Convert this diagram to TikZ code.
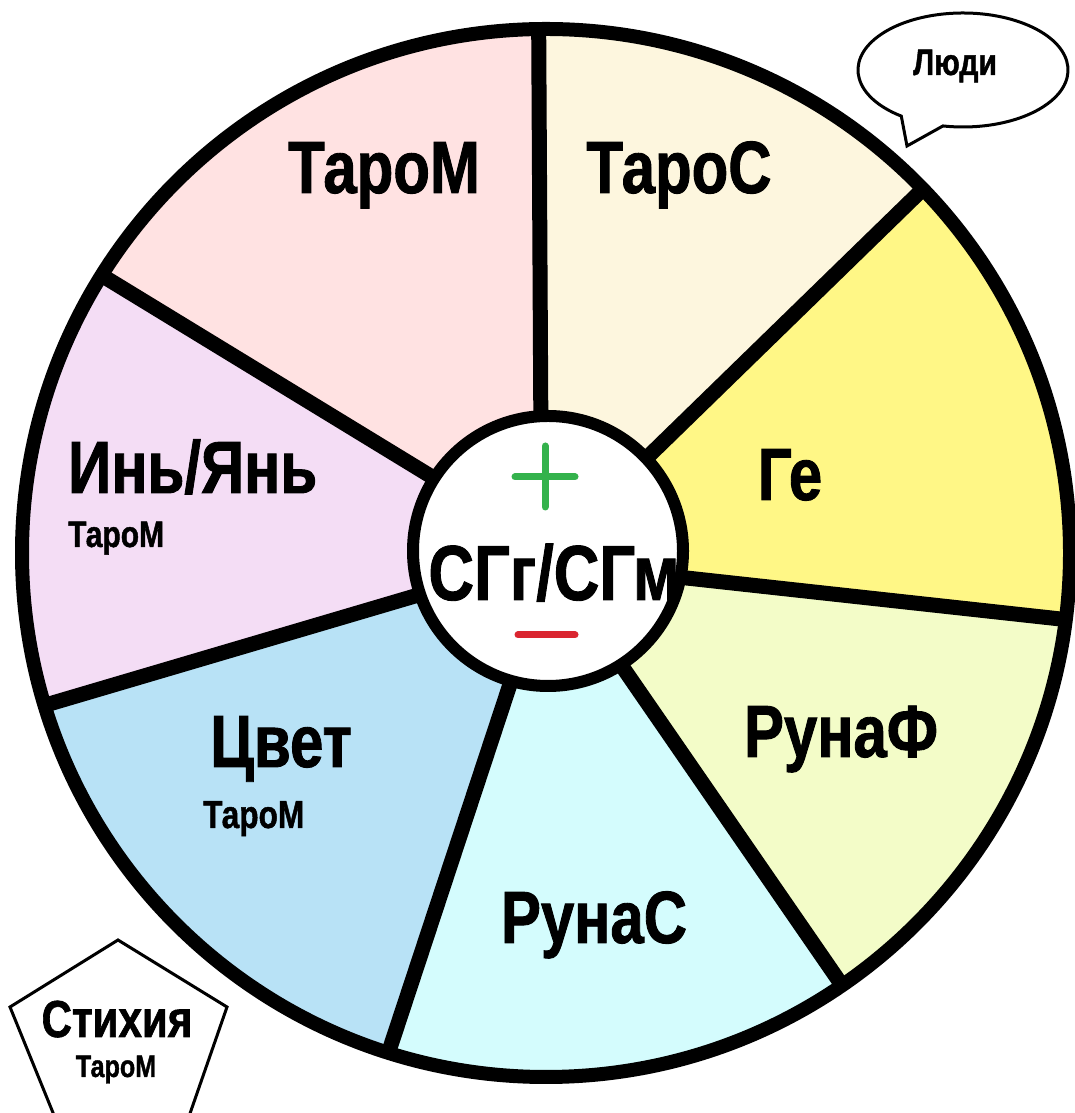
\documentclass[tikz,border=0pt]{standalone}
\usepackage{fontspec}
\newfontfamily\nar[FakeStretch=0.81,FakeBold=1.2]{Liberation Sans}
\definecolor{cTM}{RGB}{255,226,226}
\definecolor{cTC}{RGB}{253,246,222}
\definecolor{cGe}{RGB}{255,247,134}
\definecolor{cRF}{RGB}{243,252,200}
\definecolor{cRS}{RGB}{212,252,253}
\definecolor{cCv}{RGB}{184,226,246}
\definecolor{cYY}{RGB}{244,221,245}
\definecolor{plusgreen}{RGB}{52,178,76}
\definecolor{minusred}{RGB}{218,37,48}
\begin{document}
\begin{tikzpicture}[x=1pt,y=1pt,
  lab/.style={inner sep=0pt, anchor=base, text=black},
  big/.style={lab, font=\nar\bfseries\fontsize{74}{88}\selectfont},
  small/.style={lab, font=\nar\bfseries\fontsize{37}{44}\selectfont},
  centre/.style={lab, font=\nar\bfseries\fontsize{78}{90}\selectfont},
  spoke/.style={line width=15pt},
  rim/.style={line width=14pt},
  hub/.style={draw, line width=12pt, fill=white},
  thin/.style={line width=3pt, fill=white, line join=miter}]
\useasboundingbox (0,0) rectangle (1075,1113);
\clip (0,0) rectangle (1075,1113);
\fill[white] (0,0) rectangle (1075,1113);
\coordinate (C) at (546,560);
\coordinate (H) at (548,562);
\def\R{524}
\def\r{135}
% sectors: rim start / rim end / hub start / hub end / colour
\foreach \a/\b/\ha/\hb/\col in {90.8/148/94/147/cTM, 44/90.8/43/94/cTC,
  -7.3/44/-13/43/cGe, -55.6/-7.3/-58/-13/cRF, -107.5/-55.6/-105/-58/cRS,
  -163.1/-107.5/-160.4/-105/cCv, 148/196.9/147/199.6/cYY}
  \fill[\col] (H) -- ([shift={(H)}]\ha:\r) -- ([shift={(C)}]\a:\R)
     arc[start angle=\a, end angle=\b, radius=\R] -- ([shift={(H)}]\hb:\r) -- cycle;
% spokes: hub angle / rim angle
\foreach \ha/\a in {94/90.8, 43/44, -13/-7.3, -58/-55.6, -105/-107.5, -160.4/-163.1, 147/148}
  \draw[spoke] ([shift={(H)}]\ha:100) -- ([shift={(C)}]\a:\R);
% rim
\draw[rim] (C) circle[radius=\R];
% hub
\node[circle, hub, minimum size=270pt, inner sep=0pt] (hub) at (H) {};
\draw[plusgreen, line width=7pt, line cap=round] (515,636) -- (575,636);
\draw[plusgreen, line width=7pt, line cap=round] (545,667) -- (545,606);
\draw[minusred, line width=7pt, line cap=round] (518,478) -- (575,478);
\node[centre] (sg) at (554,513) {СГг/СГм};
% sector labels
\node[big] (tm) at (384,920) {ТароМ};
\node[big] (tc) at (679,920) {ТароС};
\node[big] (ge) at (790,613) {Ге};
\node[big, anchor=base west] (yy) at (68,620) {Инь/Янь};
\node[small, anchor=base west] (yyt) at (68,566) {ТароМ};
\node[big, anchor=base west] (cv) at (210,346) {Цвет};
\node[small, font=\nar\bfseries\fontsize{39}{46}\selectfont, anchor=base west] (cvt) at (203,285) {ТароМ};
\node[big] (rf) at (841,356) {РунаФ};
\node[big] (rs) at (594,170) {РунаС};
% speech bubble
\draw[thin] (907,967) -- ([shift={(963,1043)}]234:105 and 57)
  arc[start angle=234, end angle=-101, x radius=105, y radius=57] -- cycle;
\node[lab, font=\nar\bfseries\fontsize{37}{44}\selectfont] (ld) at (955,1038) {Люди};
% pentagon
\draw[thin] (118,173) -- (227,106) -- (186,-12) -- (58,-12) -- (10,106) -- cycle;
\node[lab, font=\nar\bfseries\fontsize{52}{60}\selectfont] (st) at (117,76) {Стихия};
\node[lab, font=\nar\bfseries\fontsize{31}{36}\selectfont] (stt) at (116,36) {ТароМ};
\end{tikzpicture}
\end{document}
